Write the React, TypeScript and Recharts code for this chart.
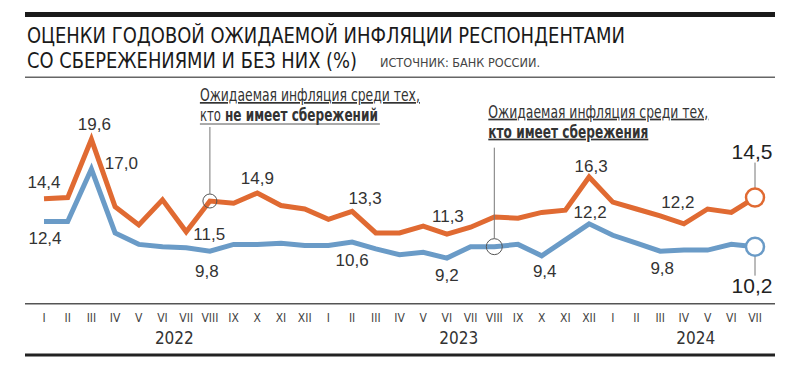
import { LineChart, Line, XAxis, YAxis } from "recharts";

const months = ["I", "II", "III", "IV", "V", "VI", "VII", "VIII", "IX", "X", "XI", "XII"];
const years = ["2022", "2023", "2024"];
const yearCenters = [5.5, 17.5, 27.5];
const yearBreaks = [11.5, 23.5];

// без сбережений
const withoutSavings = [
  14.4, 14.5, 19.6, 13.7, 12.1, 14.3, 11.5, 14.2, 14.0, 14.9, 13.8, 13.5,
  12.6, 13.3, 11.4, 11.4, 12.0, 11.3, 11.9, 12.8, 12.7, 13.2, 13.4, 16.3,
  14.1, 13.5, 12.9, 12.2, 13.5, 13.2, 14.5,
];
// со сбережениями
const withSavings = [
  12.4, 12.4, 17.0, 11.4, 10.4, 10.2, 10.1, 9.8, 10.4, 10.4, 10.5, 10.3,
  10.3, 10.6, 10.0, 9.5, 9.7, 9.2, 10.2, 10.2, 10.4, 9.4, 10.8, 12.2,
  11.2, 10.5, 9.8, 9.9, 9.9, 10.4, 10.2,
];

const data = withoutSavings.map((v, i) => ({
  i,
  month: months[i % 12],
  without: v,
  with: withSavings[i],
}));

const ORANGE = "#e06a32";
const BLUE = "#6a9bc7";
const NARROW = "'Liberation Sans Narrow', 'DejaVu Sans Condensed', sans-serif";
const SANS = "'Liberation Sans', Arial, sans-serif";

// где стоят подписи значений (смещение от точки)
const orangeNotes: Record<number, [number, number]> = {
  0: [0, -16], 2: [3, -15], 6: [23, 3], 9: [0, -15], 13: [13, -13],
  17: [1, -18], 23: [2, -11], 27: [-6, -21],
};
const blueNotes: Record<number, [number, number]> = {
  0: [1, 17], 2: [30, -6], 7: [-3, 20], 13: [0, 18], 17: [0, 17],
  21: [3, 16], 23: [1, -11], 26: [2, 17],
};

const fmt = (v: number) => v.toFixed(1).replace(".", ",");
const last = withoutSavings.length - 1;

function makeDot(key: "without" | "with", notes: Record<number, [number, number]>, color: string) {
  return (p: any) => {
    const { cx, cy, index, payload } = p;
    const v = payload[key] as number;
    const parts: any[] = [];
    const note = notes[index];
    if (note) {
      parts.push(
        <text key="l" x={cx + note[0]} y={cy + note[1]} textAnchor="middle" dominantBaseline="central"
          fontFamily={SANS} fontSize={17} fill="#333">
          {fmt(v)}
        </text>
      );
    }
    if (index === last) {
      const up = key === "without";
      parts.push(
        <line key="ld" x1={cx} x2={cx} y1={up ? cy - 9 : cy + 9} y2={up ? cy - 35 : cy + 29} stroke="#777" strokeWidth={1} />,
        <circle key="c" cx={cx} cy={cy} r={9} fill="#fff" stroke={color} strokeWidth={2.5} />,
        <text key="big" x={cx - 3} y={up ? cy - 46 : cy + 39} textAnchor="middle" dominantBaseline="central"
          fontFamily={SANS} fontSize={21} fill="#222">
          {fmt(v)}
        </text>
      );
    }
    if (key === "without" && index === 7) {
      const x0 = cx - 10;
      parts.push(
        <circle key="ring" cx={cx} cy={cy} r={7} fill="none" stroke="#555" strokeWidth={1} />,
        <line key="lead" x1={cx} x2={cx} y1={cy - 7} y2={cy - 74} stroke="#777" strokeWidth={1} />,
        <text key="t1" x={x0} y={cy - 100} fontFamily={NARROW} fontSize={17} fill="#333"
          textDecoration="underline" textLength={220} lengthAdjust="spacingAndGlyphs">
          Ожидаемая инфляция среди тех,
        </text>,
        <text key="t2a" x={x0} y={cy - 80} fontFamily={NARROW} fontSize={17} fill="#333"
          textLength={21} lengthAdjust="spacingAndGlyphs">
          кто
        </text>,
        <text key="t2b" x={x0 + 25} y={cy - 80} fontFamily={NARROW} fontSize={17} fill="#333" fontWeight={700}
          textLength={153} lengthAdjust="spacingAndGlyphs">
          не имеет сбережений
        </text>,
        <line key="u2" x1={x0} x2={x0 + 180} y1={cy - 77} y2={cy - 77} stroke="#555" strokeWidth={1} />
      );
    }
    if (key === "with" && index === 19) {
      parts.push(
        <circle key="ring" cx={cx} cy={cy} r={8} fill="none" stroke="#555" strokeWidth={1} />,
        <line key="lead" x1={cx} x2={cx} y1={cy - 8} y2={cy - 99} stroke="#777" strokeWidth={1} />,
        <text key="t1" x={cx - 6} y={cy - 129} fontFamily={NARROW} fontSize={17} fill="#333"
          textDecoration="underline" textLength={220} lengthAdjust="spacingAndGlyphs">
          Ожидаемая инфляция среди тех,
        </text>,
        <text key="t2" x={cx - 6} y={cy - 109} fontFamily={NARROW} fontSize={17} fill="#333" fontWeight={700}
          textDecoration="underline" textLength={160} lengthAdjust="spacingAndGlyphs">
          кто имеет сбережения
        </text>
      );
    }
    return <g key={`d-${key}-${index}`}>{parts}</g>;
  };
}

export default function App() {
  return (
    <div style={{ position: "absolute", left: 0, top: 0, width: 800, height: 368, background: "#fff" }}>
      <svg width={800} height={368} style={{ position: "absolute", left: 0, top: 0 }}>
        <rect x={25} y={12} width={750} height={5} fill="#1a1a1a" />
        <text x={27} y={43} fontFamily={NARROW} fontSize={22} fill="#1a1a1a"
          textLength={598} lengthAdjust="spacingAndGlyphs">
          ОЦЕНКИ ГОДОВОЙ ОЖИДАЕМОЙ ИНФЛЯЦИИ РЕСПОНДЕНТАМИ
        </text>
        <text x={27} y={68} fontFamily={NARROW} fontSize={22} fill="#1a1a1a"
          textLength={330} lengthAdjust="spacingAndGlyphs">
          СО СБЕРЕЖЕНИЯМИ И БЕЗ НИХ (%)
        </text>
        <text x={380} y={67} fontFamily={NARROW} fontSize={12.5} fill="#444"
          textLength={160} lengthAdjust="spacingAndGlyphs">
          ИСТОЧНИК: БАНК РОССИИ.
        </text>
        <rect x={25} y={76.5} width={750} height={1.5} fill="#666" />
        <rect x={25} y={303} width={750} height={1.5} fill="#555" />
        <rect x={25} y={353.5} width={750} height={3} fill="#222" />
      </svg>
      <div style={{ position: "absolute", left: 0, top: 0 }}>
        <LineChart width={800} height={368} data={data} margin={{ top: 112, right: 45, bottom: 20, left: 44 }}>
          <XAxis xAxisId="sep" dataKey="i" type="number" domain={[0, last]} ticks={yearBreaks}
            height={0} axisLine={false} tickSize={46} tickLine={{ stroke: "#666", strokeWidth: 1 }}
            tickFormatter={() => ""} />
          <XAxis xAxisId="m" dataKey="i" type="number" domain={[0, last]} ticks={data.map((d) => d.i)}
            interval={0} height={22} axisLine={false} tickLine={false} tickSize={0} tickMargin={7}
            tickFormatter={(i: number) => months[i % 12]}
            tick={{ fontFamily: NARROW, fontSize: 12, fill: "#444" }} />
          <XAxis xAxisId="y" dataKey="i" type="number" domain={[0, last]} ticks={yearCenters}
            interval={0} height={20} axisLine={false} tickLine={false} tickSize={0} tickMargin={4}
            tickFormatter={(c: number) => years[yearCenters.indexOf(c)]}
            tick={{ fontFamily: NARROW, fontSize: 17, fill: "#333" }} />
          <YAxis hide domain={[5, 22]} />
          <Line xAxisId="m" dataKey="without" stroke={ORANGE} strokeWidth={5} isAnimationActive={false}
            dot={makeDot("without", orangeNotes, ORANGE)} activeDot={false} />
          <Line xAxisId="m" dataKey="with" stroke={BLUE} strokeWidth={5} isAnimationActive={false}
            dot={makeDot("with", blueNotes, BLUE)} activeDot={false} />
        </LineChart>
      </div>
    </div>
  );
}
